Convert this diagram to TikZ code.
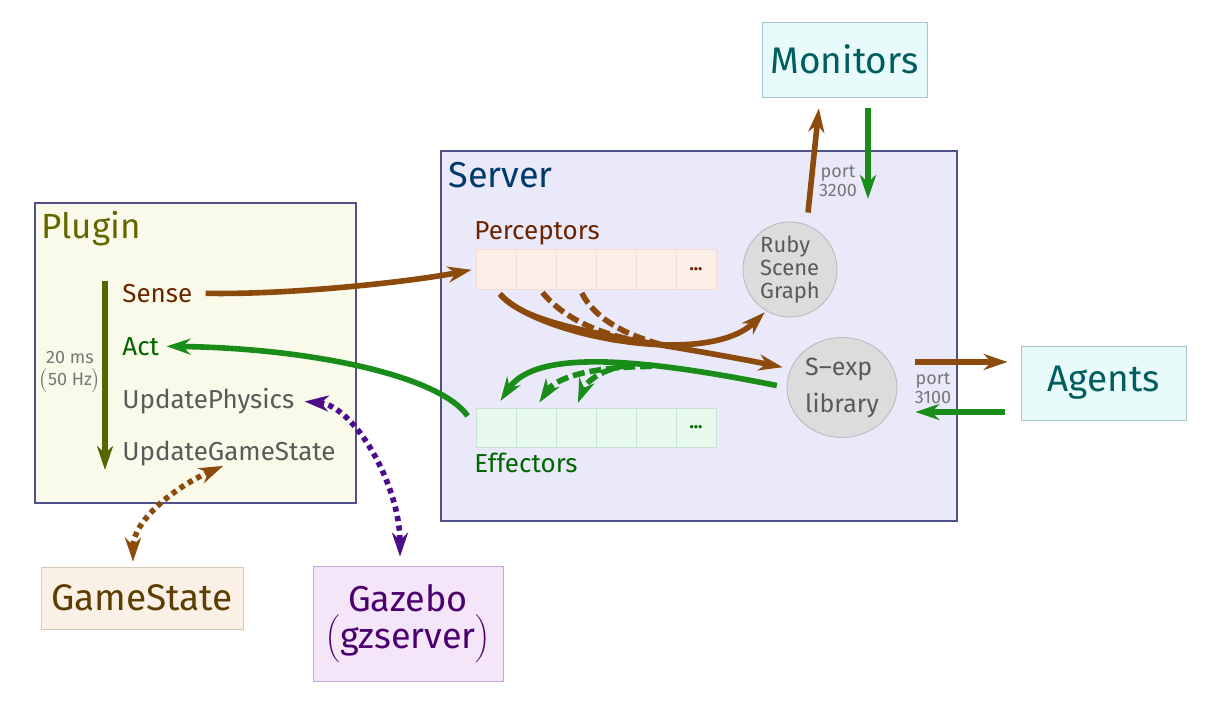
\RequirePackage{fix-cm}
\documentclass[tikz,border=0pt]{standalone}
\usepackage{fontspec}
\setmainfont{Fira Sans}
\usepackage{tikz}
\usetikzlibrary{arrows.meta,shapes.geometric,positioning}
\tikzset{>={Stealth[length=12pt,width=8pt,inset=3.8pt]}}
\usepackage{color}

\definecolor{sensebrown}{HTML}{8C4A0C}
\definecolor{actgreen}{HTML}{1A8C1A}
\definecolor{gzpurple}{HTML}{4E0E8C}
\definecolor{cycleolive}{HTML}{556600}
\definecolor{plugfill}{HTML}{FAFAEA}
\definecolor{servfill}{HTML}{E9E9F9}
\definecolor{boxline}{HTML}{50508A}
\definecolor{plugtext}{HTML}{666600}
\definecolor{servtext}{HTML}{003A6A}
\definecolor{extfill}{HTML}{E8FAFA}
\definecolor{extline}{HTML}{A8C4CC}
\definecolor{exttext}{HTML}{005E60}
\definecolor{gsfill}{HTML}{FAF0E6}
\definecolor{gsline}{HTML}{D6C8B8}
\definecolor{gstext}{HTML}{5E3E00}
\definecolor{gzfill}{HTML}{F4E6F8}
\definecolor{gzline}{HTML}{C8AAD6}
\definecolor{gztext}{HTML}{4C0070}
\definecolor{pfill}{HTML}{FBEEE8}
\definecolor{pline}{HTML}{F0DCD2}
\definecolor{efill}{HTML}{E6F9EC}
\definecolor{eline}{HTML}{C8E2D2}
\definecolor{ptext}{HTML}{6A2400}
\definecolor{etext}{HTML}{006600}
\definecolor{grayfill}{HTML}{DCDCDC}
\definecolor{grayline}{HTML}{B8B8B8}
\definecolor{graytext}{HTML}{5A5A5A}
\definecolor{notegray}{HTML}{777777}

\begin{document}
\begin{tikzpicture}[x=0.5pt, y=-0.5pt,
  extbox/.style={rectangle, draw=extline, fill=extfill, text=exttext, minimum width=82.5pt, inner sep=0pt, font=\fontsize{18.5}{22}\selectfont},
  area/.style={rectangle, draw=boxline, line width=0.6pt, inner sep=0pt},
  heading/.style={anchor=base west, inner sep=0pt, font=\fontsize{17.5}{20}\selectfont},
  stage/.style={anchor=base west, inner sep=0pt, font=\fontsize{13}{15}\selectfont},
  pcell/.style={rectangle, draw=pline, fill=pfill, minimum width=20pt, minimum height=20pt, inner sep=0pt},
  ecell/.style={rectangle, draw=eline, fill=efill, minimum width=20pt, minimum height=19.5pt, inner sep=0pt},
  blob/.style={ellipse, draw=grayline, fill=grayfill, text=graytext, align=left, inner sep=0pt},
  note/.style={text=notegray, align=center, inner sep=0pt, font=\fontsize{9}{9.8}\selectfont},
  flow/.style={line width=2.8pt},
  dashflow/.style={line width=2.8pt, dash pattern=on 6pt off 2.5pt},
  dotflow/.style={line width=2.8pt, dash pattern=on 2.6pt off 2.2pt}]
  \useasboundingbox (0,0) rectangle (1207,713);

  % outer boxes
  \node (plugin) at (195.5,353) [area, fill=plugfill, minimum width=160.5pt, minimum height=150pt] {};
  \node (server) at (699,336) [area, fill=servfill, minimum width=258pt, minimum height=185pt] {};
  \node (monitors) at (844.5,59.5) [extbox, minimum height=37.5pt] {Monitors};
  \node (agents) at (1103.5,383) [extbox, minimum height=37pt] {Agents};
  \node (gamestate) at (142,598) [rectangle, draw=gsline, fill=gsfill, text=gstext, minimum width=101pt, minimum height=31pt, inner sep=0pt, font=\fontsize{18.5}{22}\selectfont] {GameState};
  \node (gazebo) at (408,623.5) [rectangle, draw=gzline, fill=gzfill, text=gztext, minimum width=95pt, minimum height=57.5pt, inner sep=0pt, align=center, font=\fontsize{18}{18.5}\selectfont] {Gazebo\\$\biggl($gzserver$\biggr)$};

  % plugin loop
  \node (pluginname) at (41,238) [heading, text=plugtext] {Plugin};
  \coordinate (cycletop) at (105,281);
  \coordinate (cyclebottom) at (105,470);
  \node (sense) at (122,302) [stage, text=ptext] {Sense};
  \node (act) at (122,355) [stage, text=etext] {Act};
  \node (physics) at (122,408) [stage, text=graytext] {UpdatePhysics};
  \node (updategs) at (122,460) [stage, text=graytext] {UpdateGameState};
  \node (period) at (70,372) [note, font=\fontsize{9}{11}\selectfont] {20 ms\\$\bigl($50 Hz$\bigr)$};
  \draw[flow, ->, cycleolive, line width=3pt] (cycletop) -- (cyclebottom);

  % server contents
  \node (servername) at (448,187) [heading, text=servtext, font=\fontsize{18}{20}\selectfont] {Server};
  \node (perceptors) at (474,239) [stage, text=ptext] {Perceptors};
  \node (effectors) at (474,472) [stage, text=etext] {Effectors};
  \foreach \i in {1,...,6} {
    \node (p\i) at (456+40*\i,269) [pcell] {};
    \node (e\i) at (456+40*\i,427.5) [ecell] {};
  }
  \node (pdots) at (p6) [text=ptext, font=\fontsize{9}{9}\bfseries] {...};
  \node (edots) at (e6) [text=etext, font=\fontsize{9}{9}\bfseries] {...};
  \node (ruby) at (790,269.5) [blob, minimum width=47pt, minimum height=42.5pt, font=\fontsize{11}{11.5}\selectfont] {Ruby\\Scene\\Graph};
  \node (sexp) at (842,387.5) [blob, minimum width=55pt, minimum height=50pt, font=\fontsize{12.5}{18.5}\selectfont] {S--exp\\library};
  \node (port3200) at (838,181) [note] {port\\3200};
  \node (port3100) at (933,388) [note] {port\\3100};
  \coordinate (monitorsin) at (868,199);

  % sensing side
  \draw[flow, ->, sensebrown, shorten <=6.5pt, shorten >=2pt] (sense.east) .. controls +(100,2) and +(-60,12) .. (p1.west);
  \draw[flow, ->, sensebrown, shorten <=3pt, shorten >=4pt] (p1.south) .. controls +(34,41) and +(-150,-30) .. (sexp.160) coordinate[pos=0.6] (merge1) coordinate[pos=0.7] (merge2);
  \draw[dashflow, sensebrown, shorten <=2pt] ([xshift=2pt]p2.south) .. controls +(20,25) and +(-40,-8) .. (merge1);
  \draw[dashflow, sensebrown, shorten <=2pt] ([xshift=2pt]p3.south) .. controls +(15,30) and +(-40,-10) .. (merge2);
  \draw[flow, ->, sensebrown, shorten <=3pt, shorten >=1pt] (p1.south) .. controls +(40,46) and +(-60,58) .. (ruby.240);
  \draw[flow, ->, sensebrown, shorten >=5.5pt] ([xshift=9pt,yshift=4.5pt]ruby.north) -- ([xshift=-12.25pt]monitors.south);
  \draw[flow, ->, sensebrown, shorten <=9pt, shorten >=6.5pt] ([yshift=12.75pt]sexp.east) -- ([yshift=10.5pt]agents.west);

  % acting side
  \draw[flow, ->, actgreen, shorten <=5.5pt] ([xshift=11.75pt]monitors.south) -- (monitorsin);
  \draw[flow, ->, actgreen, shorten <=8pt, shorten >=9pt] ([yshift=-14.5pt]agents.west) -- ([yshift=-12.25pt]sexp.east);
  \draw[flow, ->, actgreen, shorten <=5pt, shorten >=4pt] (sexp.west) .. controls +(-140,-28) and +(40,-60) .. (e1.north) coordinate[pos=0.35] (split1) coordinate[pos=0.42] (split2);
  \draw[dashflow, ->, actgreen, shorten >=3pt] (split1) .. controls +(-60,0) and +(20,-30) .. (e2.north);
  \draw[dashflow, ->, actgreen, shorten >=2.5pt] (split2) .. controls +(-30,5) and +(10,-25) .. (e3.north);
  \draw[flow, ->, actgreen, shorten <=7pt, shorten >=3.5pt] (e1.west) .. controls +(-36,-52) and +(150,2) .. (act.east);

  % simulation links
  \draw[dotflow, <->, gzpurple, shorten <=5pt, shorten >=4.5pt] (physics.east) .. controls +(60,5) and +(0,-80) .. ([xshift=-4pt]gazebo.north);
  \draw[dotflow, <->, sensebrown, shorten >=2.5pt] ([xshift=-3pt]updategs.south) .. controls +(-50,22) and +(0,-45) .. ([xshift=-4.5pt]gamestate.north);
\end{tikzpicture}
\end{document}
